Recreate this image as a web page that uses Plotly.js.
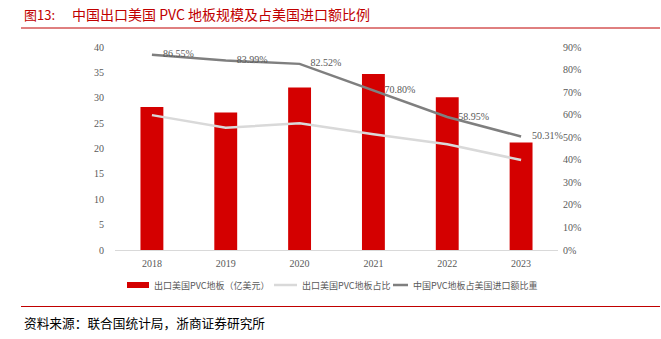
<!DOCTYPE html>
<html><head><meta charset="utf-8">
<script src="https://cdn.plot.ly/plotly-3.0.1.min.js"></script>
<style>html,body{margin:0;padding:0;background:#fff}#c{width:661px;height:339px}</style>
</head><body><div id="c"></div>
<script>
const years = ['2018','2019','2020','2021','2022','2023'];
const exportValue = [28.2, 27.1, 32.0, 34.7, 30.1, 21.2];
const exportShare = [59.8, 54.2, 56.2, 51.3, 46.9, 39.9];
const importShare = [86.55, 83.99, 82.52, 70.80, 58.95, 50.31];
const importShareLabels = ['86.55%','83.99%','82.52%','70.80%','58.95%','50.31%'];
const seriesNames = ['出口美国PVC地板（亿美元）','出口美国PVC地板占比','中国PVC地板占美国进口额比重'];
const seriesColors = ['#d40000','#d9d9d9','#7f7f7f'];

const tickFont = {family:'Liberation Serif, serif', size:10, color:'#595959'};
const traces = [
  {type:'bar', x:years, y:exportValue, name:seriesNames[0], marker:{color:seriesColors[0]}, width:0.31, yaxis:'y'},
  {type:'scatter', mode:'lines', x:years, y:exportShare, name:seriesNames[1], line:{color:seriesColors[1], width:2.5}, yaxis:'y2'},
  {type:'scatter', mode:'lines+markers+text', x:years, y:importShare, name:seriesNames[2], line:{color:seriesColors[2], width:2.5}, yaxis:'y2',
   marker:{size:16, opacity:0, color:seriesColors[2]}, cliponaxis:false,
   text:importShareLabels, textposition:'middle right', textfont:{family:'Liberation Serif, serif', size:10, color:'#595959'}}
];
const H = 203, B = 89, W = 443, L = 115;
const py = v => (339 - B - v) / H;
const px = v => (v - L) / W;
const legY = 285;
const legFont = {family:'Noto Sans CJK SC', size:9, color:'#595959'};
const layout = {
  width:661, height:339,
  margin:{l:115, r:103, t:47, b:89},
  paper_bgcolor:'#fff', plot_bgcolor:'#fff',
  showlegend:false,
  bargap:0.69,
  xaxis:{type:'category', showgrid:false, zeroline:false, showline:true, linecolor:'#d9d9d9', linewidth:1,
    tickfont:tickFont, ticks:'', ticklabelstandoff:4},
  yaxis:{range:[0,40], dtick:5, showgrid:false, zeroline:false, showline:false, tickfont:tickFont, ticklabelstandoff:10},
  yaxis2:{range:[0,90], dtick:10, overlaying:'y', side:'right', showgrid:false, zeroline:false, showline:false,
    ticksuffix:'%', tickfont:tickFont, ticklabelstandoff:4},
  shapes:[
    {type:'line', xref:'paper', yref:'paper', x0:px(21), x1:px(660), y0:py(28), y1:py(28), line:{color:'#c00000', width:1}},
    {type:'line', xref:'paper', yref:'paper', x0:px(21), x1:px(660), y0:py(306.5), y1:py(306.5), line:{color:'#c00000', width:1}},
    {type:'rect', xref:'paper', yref:'paper', x0:px(127), x1:px(149), y0:py(legY+3), y1:py(legY-3), line:{width:0}, fillcolor:seriesColors[0]},
    {type:'line', xref:'paper', yref:'paper', x0:px(274), x1:px(297), y0:py(legY), y1:py(legY), line:{color:seriesColors[1], width:2.5}},
    {type:'line', xref:'paper', yref:'paper', x0:px(393), x1:px(408), y0:py(legY), y1:py(legY), line:{color:seriesColors[2], width:2.5}}
  ],
  annotations:[
    {xref:'paper', yref:'paper', x:px(22), y:py(14), xanchor:'left', yanchor:'middle', showarrow:false,
     text:'图13:', font:{family:'Noto Sans CJK SC', size:13, color:'#c00000'}},
    {xref:'paper', yref:'paper', x:px(70), y:py(14), xanchor:'left', yanchor:'middle', showarrow:false,
     text:'中国出口美国 PVC 地板规模及占美国进口额比例', font:{family:'Noto Sans CJK SC', size:14, color:'#c00000'}},
    {xref:'paper', yref:'paper', x:px(22), y:py(322), xanchor:'left', yanchor:'middle', showarrow:false,
     text:'资料来源：联合国统计局，浙商证券研究所', font:{family:'Noto Sans CJK SC', size:12.7, color:'#000'}},
    {xref:'paper', yref:'paper', x:px(152), y:py(legY), xanchor:'left', yanchor:'middle', showarrow:false, text:seriesNames[0], font:legFont},
    {xref:'paper', yref:'paper', x:px(300), y:py(legY), xanchor:'left', yanchor:'middle', showarrow:false, text:seriesNames[1], font:legFont},
    {xref:'paper', yref:'paper', x:px(411), y:py(legY), xanchor:'left', yanchor:'middle', showarrow:false, text:seriesNames[2], font:legFont}
  ]
};
Plotly.newPlot('c', traces, layout, {displayModeBar:false, staticPlot:true});
</script></body></html>
